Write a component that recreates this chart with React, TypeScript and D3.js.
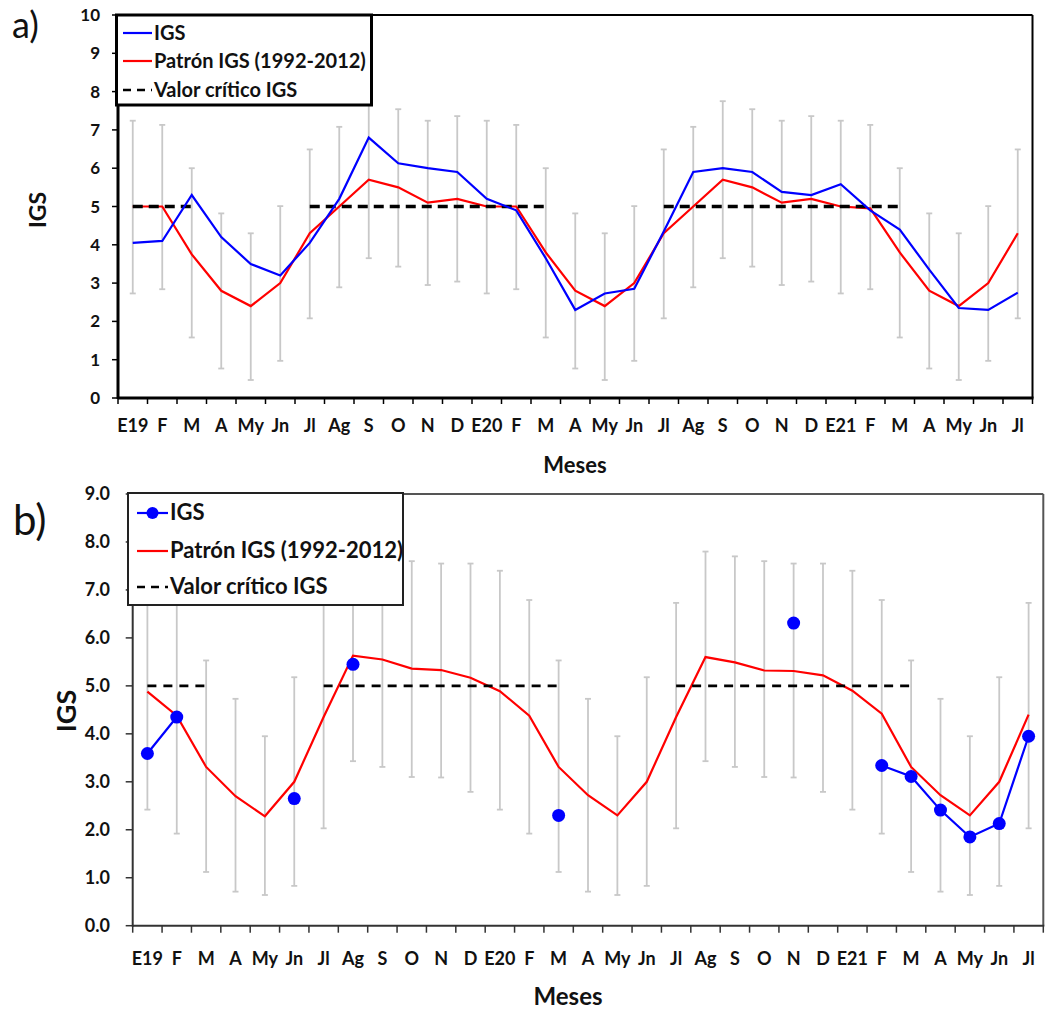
import React from "react";
import * as d3 from "d3";

const monthLabels = [
  "E19", "F", "M", "A", "My", "Jn", "Jl", "Ag", "S", "O", "N", "D",
  "E20", "F", "M", "A", "My", "Jn", "Jl", "Ag", "S", "O", "N", "D",
  "E21", "F", "M", "A", "My", "Jn", "Jl",
];

// Panel a
const igsA: (number | null)[] = [
  4.05, 4.1, 5.3, 4.2, 3.5, 3.2, 4.05, 5.2, 6.8, 6.13, 6.0, 5.9,
  5.2, 4.9, 3.65, 2.3, 2.73, 2.85, 4.35, 5.9, 6.0, 5.9, 5.38, 5.3,
  5.58, 4.9, 4.4, 3.35, 2.35, 2.3, 2.75,
];
const patronA: (number | null)[] = [
  5.0, 5.0, 3.75, 2.8, 2.4, 3.0, 4.3, 5.0, 5.7, 5.5, 5.1, 5.2,
  5.0, 5.0, 3.8, 2.8, 2.4, 3.0, 4.3, 5.0, 5.7, 5.5, 5.1, 5.2,
  5.0, 4.95, 3.8, 2.8, 2.4, 3.0, 4.3,
];
const lowA = [2.73, 2.84, 1.58, 0.77, 0.47, 0.97, 2.08, 2.89, 3.65, 3.43, 2.95, 3.04];
const highA = [7.24, 7.13, 6.0, 4.82, 4.3, 5.01, 6.49, 7.08, 7.75, 7.54, 7.24, 7.36];

// Panel b
const igsB: (number | null)[] = [
  3.59, 4.35, null, null, null, 2.65, null, 5.45, null, null, null, null,
  null, null, 2.3, null, null, null, null, null, null, null, 6.31, null,
  null, 3.34, 3.11, 2.41, 1.85, 2.13, 3.95,
];
const patronB: (number | null)[] = [
  4.88, 4.38, 3.31, 2.7, 2.28, 3.0, 4.35, 5.63, 5.55, 5.36, 5.33, 5.17,
  4.89, 4.38, 3.31, 2.72, 2.3, 3.0, 4.35, 5.6, 5.49, 5.32, 5.31, 5.22,
  4.9, 4.42, 3.31, 2.72, 2.3, 3.0, 4.4,
];
const lowB = [2.42, 1.92, 1.12, 0.71, 0.64, 0.83, 2.03, 3.43, 3.31, 3.1, 3.09, 2.79];
const highB = [7.4, 6.79, 5.53, 4.73, 3.95, 5.18, 6.73, 7.8, 7.7, 7.6, 7.55, 7.55];

// Valor crítico (both panels)
const critico: (number | null)[] = [
  5, 5, 5, null, null, null, 5, 5, 5, 5, 5, 5,
  5, 5, 5, null, null, null, 5, 5, 5, 5, 5, 5,
  5, 5, 5, null, null, null, null,
];

const ticksA = d3.range(0, 11);
const ticksB = d3.range(0, 10);

const legendLabels = ["IGS", "Patrón IGS (1992-2012)", "Valor crítico IGS"];

const FONT = "Lato, 'DejaVu Sans', sans-serif";

type PanelProps = {
  left: number; right: number; top: number; bottom: number; yMax: number;
  yTicks: number[]; tickFmt: (v: number) => string;
  igs: (number | null)[]; patron: (number | null)[]; low: number[]; high: number[];
  markers: boolean; variant: "a" | "b";
};

function Panel(p: PanelProps) {
  const idx = d3.range(monthLabels.length);
  const x = d3.scaleBand<number>().domain(idx).range([p.left, p.right]).padding(0);
  const cx = (i: number) => (x(i) as number) + x.bandwidth() / 2;
  const y = d3.scaleLinear().domain([0, p.yMax]).range([p.bottom, p.top]);
  const line = d3
    .line<number | null>()
    .defined((d) => d != null)
    .x((_d, i) => cx(i))
    .y((d) => y(d as number));

  const isA = p.variant === "a";
  const axisColor = isA ? "#000" : "#333";
  const axisW = isA ? 3 : 2;
  const tickLen = isA ? 6 : 7;
  const yLabelX = isA ? 100 : 110;
  const xLabelY = isA ? 432 : 965;
  const tickFont = isA ? 17 : 18;

  return (
    <g>
      {/* error bars */}
      {idx.map((i) => {
        const m = i % 12;
        const xx = cx(i);
        return (
          <g key={"e" + i} stroke="#c8c8c8" strokeWidth={1.8}>
            <line x1={xx} x2={xx} y1={y(p.low[m])} y2={y(p.high[m])} />
            <line x1={xx - 3} x2={xx + 3} y1={y(p.low[m])} y2={y(p.low[m])} />
            <line x1={xx - 3} x2={xx + 3} y1={y(p.high[m])} y2={y(p.high[m])} />
          </g>
        );
      })}
      {/* pattern */}
      <path d={line(p.patron) || ""} fill="none" stroke="#ff0000" strokeWidth={2.2} />
      {/* critical value */}
      <path d={line(critico) || ""} fill="none" stroke="#000" strokeWidth={isA ? 3.5 : 2.8} strokeDasharray={isA ? "10,6" : "9,7"} />
      {/* IGS */}
      <path d={line(p.igs) || ""} fill="none" stroke="#0000ff" strokeWidth={2.2} />
      {p.markers &&
        p.igs.map((v, i) =>
          v == null ? null : <circle key={"m" + i} cx={cx(i)} cy={y(v)} r={6.5} fill="#0000ff" />
        )}
      {/* frame */}
      <line x1={p.left} x2={p.right} y1={p.top} y2={p.top} stroke={isA ? "#000" : "#555"} strokeWidth={2} />
      <line x1={p.right} x2={p.right} y1={p.top} y2={p.bottom} stroke={isA ? "#000" : "#555"} strokeWidth={2} />
      <line x1={p.left} x2={p.right + 1} y1={p.bottom} y2={p.bottom} stroke={axisColor} strokeWidth={axisW} />
      <line x1={p.left} x2={p.left} y1={p.top} y2={p.bottom + 1} stroke={axisColor} strokeWidth={axisW} />
      {/* y ticks */}
      {p.yTicks.map((t) => (
        <g key={"yt" + t}>
          <line x1={p.left - tickLen} x2={p.left} y1={y(t)} y2={y(t)} stroke={axisColor} strokeWidth={1.5} />
          <text x={yLabelX} y={y(t) + 6} textAnchor="end" fontFamily={FONT} fontWeight="bold" fontSize={tickFont} fill="#111">
            {p.tickFmt(t)}
          </text>
        </g>
      ))}
      {/* x ticks */}
      {d3.range(monthLabels.length + 1).map((i) => {
        const xx = p.left + i * x.step();
        return <line key={"xt" + i} x1={xx} x2={xx} y1={p.bottom} y2={p.bottom + tickLen} stroke={axisColor} strokeWidth={1.5} />;
      })}
      {monthLabels.map((lab, i) => (
        <text key={"xl" + i} x={cx(i)} y={xLabelY} textAnchor="middle" fontFamily={FONT} fontWeight="bold" fontSize={18} fill="#111">
          {lab}
        </text>
      ))}
    </g>
  );
}

function Legend({ variant }: { variant: "a" | "b" }) {
  const isA = variant === "a";
  const box = isA ? { x: 116.5, y: 15, w: 255, h: 90 } : { x: 128, y: 493, w: 275, h: 112 };
  const rows = isA ? [33, 61, 90] : [513, 551, 587];
  const lx1 = isA ? 123 : 137;
  const lx2 = isA ? 152 : 168;
  const tx = isA ? 154 : 170;
  const fs = isA ? 20 : 22;
  return (
    <g>
      <rect x={box.x} y={box.y} width={box.w} height={box.h} fill="#fff" stroke={isA ? "#000" : "#222"} strokeWidth={isA ? 3 : 2} />
      <line x1={lx1} x2={lx2} y1={rows[0]} y2={rows[0]} stroke="#0000ff" strokeWidth={2.2} />
      {!isA && <circle cx={(lx1 + lx2) / 2} cy={rows[0]} r={6} fill="#0000ff" />}
      <line x1={lx1} x2={lx2} y1={rows[1]} y2={rows[1]} stroke="#ff0000" strokeWidth={2.2} />
      <line x1={lx1} x2={lx2} y1={rows[2]} y2={rows[2]} stroke="#000" strokeWidth={2.5} strokeDasharray="8,6" />
      {legendLabels.map((l, i) => (
        <text key={l} x={tx} y={rows[i] + 7} fontFamily={FONT} fontWeight="bold" fontSize={fs} fill="#111">
          {l}
        </text>
      ))}
    </g>
  );
}

export default function App() {
  return (
    <svg width={1045} height={1014} style={{ position: "absolute", left: 0, top: 0, background: "#fff" }}>
      <rect x={0} y={0} width={1045} height={1014} fill="#fff" />
      <Panel
        left={118} right={1032.5} top={15} bottom={398} yMax={10}
        yTicks={ticksA} tickFmt={(v) => String(v)}
        igs={igsA} patron={patronA} low={lowA} high={highA}
        markers={false} variant="a"
      />
      <Legend variant="a" />
      <text x={12} y={38} fontFamily={FONT} fontSize={36} fill="#111">a)</text>
      <text transform="translate(46,210) rotate(-90)" textAnchor="middle" fontFamily={FONT} fontWeight="bold" fontSize={23} fill="#111">IGS</text>
      <text x={575} y={473} textAnchor="middle" fontFamily={FONT} fontWeight="bold" fontSize={22} fill="#111">Meses</text>

      <Panel
        left={132.7} right={1043.3} top={494} bottom={925.7} yMax={9}
        yTicks={ticksB} tickFmt={(v) => v.toFixed(1)}
        igs={igsB} patron={patronB} low={lowB} high={highB}
        markers={true} variant="b"
      />
      <Legend variant="b" />
      <text x={13} y={535} fontFamily={FONT} fontSize={42} fill="#111">b)</text>
      <text transform="translate(76,711) rotate(-90)" textAnchor="middle" fontFamily={FONT} fontWeight="bold" fontSize={27} fill="#111">IGS</text>
      <text x={568} y={1005} textAnchor="middle" fontFamily={FONT} fontWeight="bold" fontSize={24} fill="#111">Meses</text>
    </svg>
  );
}
